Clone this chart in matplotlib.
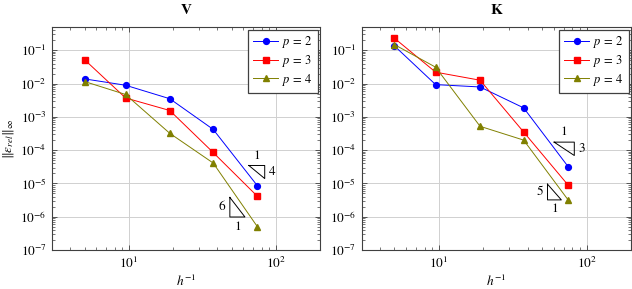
import matplotlib
matplotlib.use("Agg")
import matplotlib.pyplot as plt
import numpy as np
from matplotlib.ticker import LogLocator, NullFormatter

plt.rcParams['font.family'] = ['STIXGeneral', 'Liberation Serif', 'DejaVu Serif']
plt.rcParams['mathtext.fontset'] = 'stix'
plt.rcParams['font.size'] = 9

h_inv = [5, 9.5, 19, 37.5, 75]

V_p2 = [0.0138, 0.0089, 0.0035, 4.2e-4, 8.5e-6]
V_p3 = [0.052, 0.0037, 0.00155, 8.5e-5, 4.1e-6]
V_p4 = [0.0115, 0.0047, 3.2e-4, 4.1e-5, 5.0e-7]

K_p2 = [0.135, 0.0093, 0.0079, 0.00186, 3.2e-5]
K_p3 = [0.23, 0.022, 0.0126, 3.5e-4, 8.9e-6]
K_p4 = [0.148, 0.031, 5.2e-4, 2.0e-4, 3.2e-6]

titles = ["V", "K"]
series_labels = [r"$p\,=\,2$", r"$p\,=\,3$", r"$p\,=\,4$"]
colors = ["#0000ff", "#ff0000", "#808000"]
markers = ["o", "s", "^"]

# slope triangles: (x_left, x_right, y_top, y_bottom, orientation, run label, rise label)
tri_V = [(65.6, 84.1, 3.46e-5, 1.4e-5, "upper", "1", "4"),
         (48.7, 61.7, 3.8e-6, 9.8e-7, "lower", "1", "6")]
tri_K = [(60.3, 82.6, 1.74e-4, 6.9e-5, "upper", "1", "3"),
         (54.4, 67.5, 9.5e-6, 3.2e-6, "lower", "1", "5")]

fig = plt.figure(figsize=(6.32, 2.89), dpi=100)
axL = fig.add_axes([52/632, 1-250/289, 268/632, 223/289])
axR = fig.add_axes([361.7/632, 1-250/289, 269.3/632, 223/289])

data = [[V_p2, V_p3, V_p4], [K_p2, K_p3, K_p4]]
tris = [tri_V, tri_K]

for ax, title, ser, trs in zip([axL, axR], titles, data, tris):
    for y, lab, c, m in zip(ser, series_labels, colors, markers):
        ax.plot(h_inv, y, color=c, marker=m, markersize=4.2 if m != "^" else 4.5,
                linewidth=0.7, label=lab, markeredgecolor=c)
    ax.set_xscale("log")
    ax.set_yscale("log")
    ax.set_xlim(3, 200)
    ax.set_ylim(1e-7, 0.5)
    ax.set_yticks([1e-7, 1e-6, 1e-5, 1e-4, 1e-3, 1e-2, 1e-1])
    ax.yaxis.set_minor_locator(LogLocator(base=10, subs=np.arange(2, 10), numticks=20))
    ax.yaxis.set_minor_formatter(NullFormatter())
    ax.xaxis.set_minor_locator(LogLocator(base=10, subs=np.arange(2, 10), numticks=20))
    ax.xaxis.set_minor_formatter(NullFormatter())
    ax.set_xticks([10, 100])
    ax.grid(True, which="major", color="#d0d0d0", linewidth=0.7)
    ax.set_axisbelow(True)
    ax.tick_params(which="both", direction="in", top=True, right=True, colors="#404040",
                   labelcolor="black", labelsize=9.5)
    ax.tick_params(which="major", length=3.5, width=0.6, pad=4)
    ax.tick_params(which="minor", length=2, width=0.5)
    for s in ax.spines.values():
        s.set_color("#404040")
        s.set_linewidth(0.8)
    ax.set_title(title, fontweight="bold", fontsize=11, pad=9)
    ax.set_xlabel("$h^{-1}$", fontsize=9.5, labelpad=2)
    leg = ax.legend(loc="upper right", fancybox=False, edgecolor="#404040", framealpha=1,
                    fontsize=9, handlelength=2.0, borderaxespad=0.2, labelspacing=0.2,
                    handletextpad=0.3, borderpad=0.4)
    leg.get_frame().set_linewidth(0.9)
    for (x0, x1, yt, yb, orient, run, rise) in trs:
        if orient == "upper":
            ax.plot([x0, x1, x1, x0], [yt, yt, yb, yt], color="black", linewidth=0.7)
            ax.text(np.sqrt(x0*x1), yt*1.3, run, ha="center", va="bottom", fontsize=9.5)
            ax.text(x1*1.07, np.sqrt(yt*yb), rise, ha="left", va="center", fontsize=9.5)
        else:
            ax.plot([x0, x0, x1, x0], [yt, yb, yb, yt], color="black", linewidth=0.7)
            ax.text(x0/1.07, np.sqrt(yt*yb), rise, ha="right", va="center", fontsize=9.5)
            ax.text(np.sqrt(x0*x1), yb/1.3, run, ha="center", va="top", fontsize=9.5)

axL.set_ylabel(r"$\|\epsilon_{rel}\|_\infty$", fontsize=9.5, labelpad=3)

fig.savefig("out.png", dpi=100)
